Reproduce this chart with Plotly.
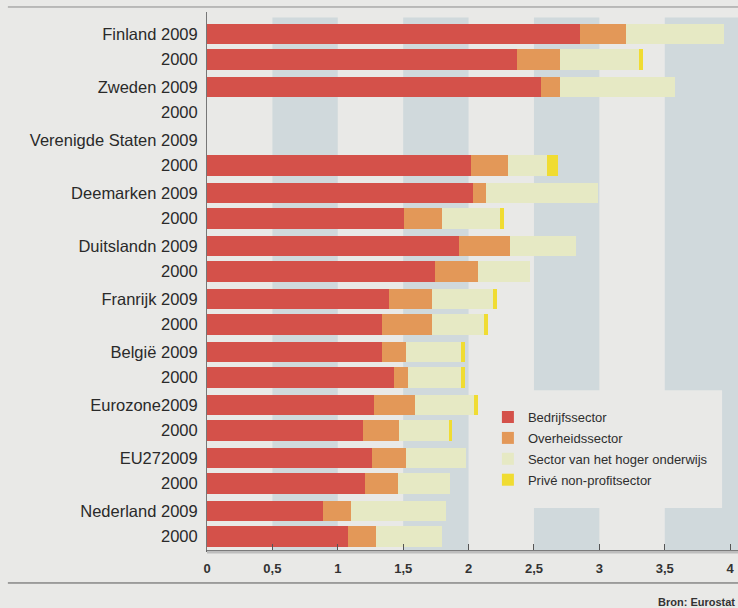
import plotly.graph_objects as go

labels = ["Finland 2009", "2000", "Zweden 2009", "2000", "Verenigde Staten 2009", "2000",
          "Deemarken 2009", "2000", "Duitslandn 2009", "2000", "Franrijk 2009", "2000",
          "België 2009", "2000", "Eurozone2009", "2000", "EU272009", "2000",
          "Nederland 2009", "2000"]

bedrijfssector = [2.85, 2.37, 2.55, None, None, 2.02, 2.03, 1.51, 1.93, 1.74,
                  1.39, 1.34, 1.34, 1.43, 1.28, 1.19, 1.26, 1.21, 0.89, 1.08]
overheidssector = [0.35, 0.33, 0.15, None, None, 0.28, 0.10, 0.29, 0.39, 0.33,
                   0.33, 0.38, 0.18, 0.11, 0.31, 0.28, 0.26, 0.25, 0.21, 0.21]
hoger_onderwijs = [0.75, 0.60, 0.88, None, None, 0.30, 0.86, 0.44, 0.50, 0.40,
                   0.47, 0.40, 0.42, 0.40, 0.45, 0.38, 0.46, 0.40, 0.73, 0.51]
prive_nonprofit = [0.0, 0.035, 0.0, None, None, 0.08, 0.0, 0.03, 0.0, 0.0,
                   0.03, 0.03, 0.03, 0.03, 0.03, 0.02, 0.0, 0.0, 0.0, 0.0]

series_names = ["Bedrijfssector", "Overheidssector", "Sector van het hoger onderwijs",
                "Privé non-profitsector"]
series_values = [bedrijfssector, overheidssector, hoger_onderwijs, prive_nonprofit]
colors = ["#d4514a", "#e39858", "#e6e9c4", "#f0dc32"]

x_tickvals = [0, 0.5, 1, 1.5, 2, 2.5, 3, 3.5, 4]
x_ticktext = ["0", "0,5", "1", "1,5", "2", "2,5", "3", "3,5", "4"]

# each country pair: 2009 row and 2000 row close together
ypos = [i // 2 + 0.48 * (i % 2) for i in range(len(labels))]

PAPER = "#e9e9e7"
BAND = "#d0d9dc"

fig = go.Figure()
for name, vals, col in zip(series_names, series_values, colors):
    fig.add_trace(go.Bar(
        x=vals, y=ypos, orientation="h", name=name, legendgroup=name,
        marker=dict(color=col, line=dict(width=0)),
        width=0.38, hoverinfo="x+name",
    ))

shapes = []
for x0, x1 in [(0.5, 1), (1.5, 2), (2.5, 3), (3.5, 4.06)]:
    shapes.append(dict(type="rect", xref="x", yref="paper", x0=x0, x1=x1, y0=0, y1=0.99,
                       fillcolor=BAND, line=dict(width=0), layer="below"))
# legend backdrop
shapes.append(dict(type="rect", xref="paper", yref="paper", x0=0.514, x1=0.970,
                   y0=0.078, y1=0.297, fillcolor=PAPER, line=dict(width=0), layer="below"))
# top and bottom rules
shapes.append(dict(type="line", xref="paper", yref="paper", x0=-0.375, x1=1.0,
                   y0=1.0093, y1=1.0093, line=dict(color="#8a8a8a", width=1)))
shapes.append(dict(type="line", xref="paper", yref="paper", x0=-0.375, x1=1.0,
                   y0=-0.0613, y1=-0.0613, line=dict(color="#555555", width=1)))
# axis shadow
shapes.append(dict(type="rect", xref="paper", yref="paper", x0=0, x1=1.0,
                   y0=-0.0065, y1=-0.0015, fillcolor="#bdbdbd", line=dict(width=0)))

fig.update_layout(
    width=738, height=608,
    margin=dict(l=207, r=0, t=12, b=58, autoexpand=False),
    paper_bgcolor=PAPER, plot_bgcolor=PAPER,
    barmode="stack",
    font=dict(family="Liberation Sans, Arial, sans-serif", color="#333333"),
    shapes=shapes,
    showlegend=True,
    legend=dict(x=0.529, y=0.275, xanchor="left", yanchor="top",
                bgcolor="rgba(0,0,0,0)", font=dict(size=13, color="#2e2e2e"),
                traceorder="grouped", tracegroupgap=1, itemclick=False),
    annotations=[dict(text="<b>Bron: Eurostat</b>", xref="paper", yref="paper",
                      x=0.845, y=-0.0967, xanchor="left", yanchor="middle",
                      showarrow=False, font=dict(size=11, color="#333333"))],
)
fig.update_xaxes(range=[0, 4.06], tickvals=x_tickvals, ticktext=x_ticktext,
                 ticks="inside", ticklen=6, tickcolor="#555555", tickwidth=1,
                 showgrid=False, zeroline=False, showline=True, linecolor="#666666",
                 linewidth=1.5, tickfont=dict(size=13, color="#333333", weight="bold"),
                 ticklabelstandoff=6, fixedrange=True, automargin=False)
fig.update_yaxes(range=[9.735, -0.415], tickvals=ypos, ticktext=labels,
                 showgrid=False, zeroline=False, showline=True, linecolor="#777777",
                 linewidth=1, ticks="", tickfont=dict(size=16.5, color="#2a2a2a"),
                 ticklabelstandoff=5, fixedrange=True, automargin=False)

fig.write_html("out.html", config={"displayModeBar": False},
               post_script="document.body.style.margin='0';document.body.style.overflow='hidden';")
